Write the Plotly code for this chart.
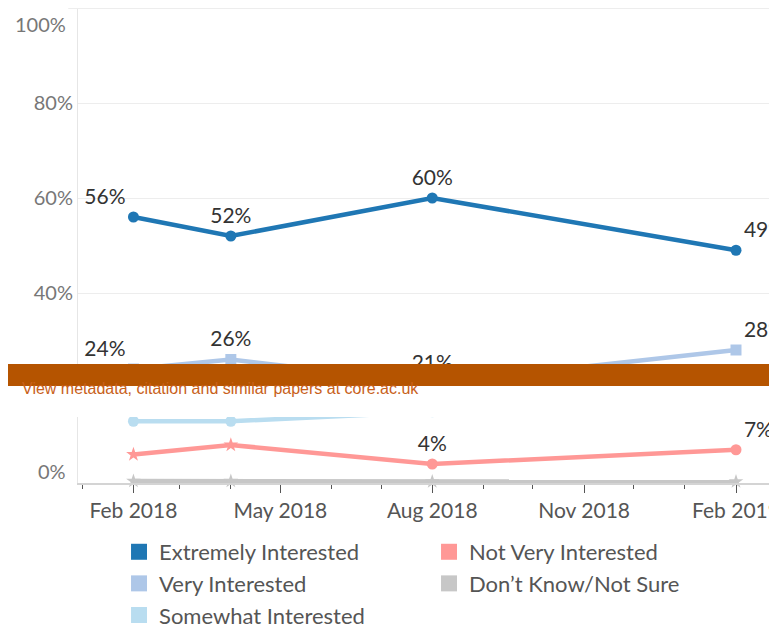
import plotly.graph_objects as go

# Survey waves
dates = ["2018-02-01", "2018-04-01", "2018-08-01", "2019-02-01"]

# Share of respondents (%) per answer
extremely = [56, 52, 60, 49]
very = [24, 26, 21, 28]
somewhat = [13, 13, 15, 16]
not_very = [6, 8, 4, 7]
dont_know = [0.4, 0.4, 0.3, 0.3]

# Point labels shown on the chart
extremely_text = ["56%", "52%", "60%", "49%"]
very_text = ["24%", "26%", "21%", "28%"]
not_very_text = ["", "", "4%", "7%"]

y_ticks = [0, 20, 40, 60, 80, 100]
y_ticktext = ["0%", "20%", "40%", "60%", "80%", "100%"]

names = ["Extremely Interested", "Very Interested", "Somewhat Interested",
         "Not Very Interested", "Don\u2019t Know/Not Sure"]
colors = ["#1F77B4", "#AEC7E8", "#B9DDF0", "#FF9896", "#C7C7C7"]

FONT = "Lato"
label_pos = ["top left", "top center", "top center", "top right"]

fig = go.Figure()

series = [
    (dont_know, None, colors[4], "star"),
    (not_very, not_very_text, colors[3], ["star", "star", "circle", "circle"]),
    (somewhat, None, colors[2], "circle"),
    (very, very_text, colors[1], "square"),
    (extremely, extremely_text, colors[0], "circle"),
]
for vals, txt, col, sym in series:
    fig.add_trace(go.Scatter(
        x=dates, y=vals,
        mode="lines+markers+text" if txt else "lines+markers",
        text=txt, textposition=label_pos,
        textfont=dict(family=FONT, size=21, color="#333333"),
        line=dict(color=col, width=4.5),
        marker=dict(color=col, size=11, symbol=sym),
        showlegend=False, cliponaxis=False,
    ))

# legend swatches, row-wise order to get two columns
for i in [0, 3, 1, 4, 2]:
    fig.add_trace(go.Scatter(
        x=[None], y=[None], mode="markers", name=names[i],
        marker=dict(color=colors[i], symbol="square", size=16),
    ))

fig.update_xaxes(
    type="date", automargin=False, ticklabeloverflow="allow",
    range=["2017-12-29 10:00", "2019-02-25 20:00"],
    tick0="2018-02-01", dtick="M3", tickformat="%b %Y",
    ticks="outside", ticklen=8, tickcolor="#555555",
    minor=dict(dtick="M1", tick0="2018-01-01", ticks="outside", ticklen=4, tickcolor="#555555"),
    showgrid=False, showline=True, linecolor="#D4D4D4", linewidth=2,
    tickfont=dict(family=FONT, size=21, color="#555555"),
)
fig.update_yaxes(
    range=[0, 100], automargin=False,
    tickvals=y_ticks[1:-1], ticktext=y_ticktext[1:-1],
    gridcolor="#EDEDED", gridwidth=1,
    showline=True, linecolor="#E6E6E6", zeroline=False,
    tickfont=dict(family=FONT, size=20, color="#777777"),
)

# end labels of the y axis sit inside the plot edges
fig.add_annotation(x=0, xref="paper", xanchor="right", xshift=-10, y=100, yshift=-16,
                   text=y_ticktext[-1], showarrow=False,
                   font=dict(family=FONT, size=20, color="#777777"))
fig.add_annotation(x=0, xref="paper", xanchor="right", xshift=-10, y=0, yshift=12,
                   text=y_ticktext[0], showarrow=False,
                   font=dict(family=FONT, size=20, color="#777777"))
fig.add_shape(type="line", xref="paper", yref="y", x0=-0.014, x1=1, y0=100, y1=100,
              line=dict(color="#EDEDED", width=2))

# overlay banner from the source page
fig.add_shape(type="rect", xref="paper", yref="paper", x0=-0.2, x1=1.1,
              y0=0.139, y1=0.2042, fillcolor="white", line_width=0, layer="above")
fig.add_shape(type="rect", xref="paper", yref="paper", x0=-0.2, x1=1.1,
              y0=0.2042, y1=0.2505, fillcolor="#B55400", line_width=0, layer="above")
fig.add_annotation(x=-0.083, xref="paper", xanchor="left", y=0.1768, yref="paper",
                   text="View metadata, citation and similar papers at core.ac.uk",
                   showarrow=False,
                   font=dict(family="Liberation Sans", size=16, color="#C8611A"))

# page body adds an 8px offset, so the figure is sized to the remaining window
fig.update_layout(
    width=769, height=622,
    margin=dict(l=70, r=0, t=0, b=147, autoexpand=False),
    plot_bgcolor="white", paper_bgcolor="white",
    legend=dict(orientation="h", x=0.0587, xanchor="left", y=-0.101, yanchor="top",
                entrywidth=265, font=dict(family=FONT, size=22, color="#555555")),
)

fig.write_html("out.html")
